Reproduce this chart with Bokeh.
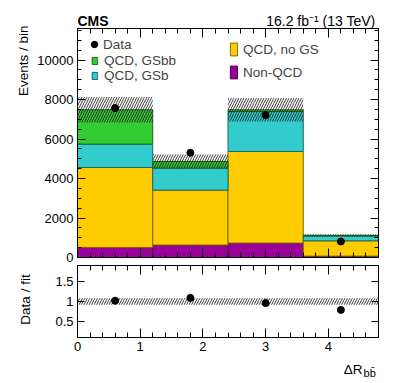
import math
from bokeh.plotting import figure
from bokeh.layouts import column, row
from bokeh.models import (ColumnDataSource, Legend, LegendItem, LinearAxis,
                          SingleIntervalTicker, FixedTicker)
from bokeh.core.properties import value
from bokeh.embed import file_html
from bokeh.resources import INLINE

# ---- data ----
bin_lo = [0.0, 1.2, 2.4, 3.6]
bin_hi = [1.2, 2.4, 3.6, 4.8]
bin_center = [0.6, 1.8, 3.0, 4.2]

non_qcd = [510, 630, 730, 70]
qcd_nogs = [4050, 2785, 4640, 775]
qcd_gsb = [1185, 1115, 2025, 250]
qcd_gsbb = [1740, 335, 85, 25]
fit_err = [650, 355, 595, 60]

data_counts = [7568, 5304, 7214, 810]
ratio_vals = [1.02, 1.09, 0.96, 0.79]
ratio_err = [0.08, 0.08, 0.08, 0.08]

labels = ["Non-QCD", "QCD, no GS", "QCD, GSb", "QCD, GSbb"]
colors = ["#990099", "#ffcc00", "#33cccc", "#33cc33"]
line_colors = ["#4d004d", "#806600", "#1a6666", "#1a661a"]

FONT = "Liberation Sans"
SIDE_W = 34
LEFT_B = 76 - SIDE_W
RIGHT_B = 22


def style_axis(ax, major_in, minor_in, show_labels):
    ax.axis_line_color = "black"
    ax.major_tick_line_color = "black"
    ax.minor_tick_line_color = "black"
    ax.major_tick_out = 0
    ax.minor_tick_out = 0
    ax.major_tick_in = major_in
    ax.minor_tick_in = minor_in
    ax.major_label_text_font = FONT
    ax.major_label_text_color = "black"
    if show_labels:
        ax.major_label_text_font_size = "13px"
    else:
        ax.major_label_text_font_size = "0px"
        ax.major_label_standoff = 0


def text_strip(w, h, x0, x1, bl, br):
    f = figure(width=w, height=h, x_range=(x0, x1), y_range=(0, h),
               output_backend="svg", toolbar_location=None,
               x_axis_type=None, y_axis_type=None,
               min_border_left=bl, min_border_right=br, min_border_top=0, min_border_bottom=0)
    f.grid.visible = False
    f.outline_line_color = None
    return f


# ---- side strip (y titles), spans the full height ----
side = text_strip(SIDE_W, 383, 0, SIDE_W, 0, 0)
side.text(x=[23.3], y=[358], text=["Events / bin"], angle=math.pi / 2,
          text_font=value(FONT), text_font_size="13.5px", text_align="right",
          text_baseline="alphabetic", text_color="black")
side.text(x=[24.5], y=[84], text=["Data / fit"], angle=math.pi / 2,
          text_font=value(FONT), text_font_size="13.5px", text_align="center",
          text_baseline="alphabetic", text_color="black")

# ---- header (experiment + luminosity); x in page pixels ----
head = text_strip(399 - SIDE_W, 28, 76, 377, LEFT_B, RIGHT_B)
head.text(x=[76], y=[7.3], text=["CMS"], text_font=value(FONT),
          text_font_style="bold", text_font_size="14px", text_baseline="alphabetic",
          text_color="black")
head.text(x=[375], y=[7.5], text=["16.2 fb\u207b\u00b9 (13 TeV)"],
          text_font=value(FONT), text_font_size="14px", text_align="right",
          text_baseline="alphabetic", text_color="black")

# ---- main panel ----
p1 = figure(frame_width=301, frame_height=229, x_range=(0, 4.8), y_range=(0, 11600),
            output_backend="svg", toolbar_location=None,
            min_border_left=LEFT_B, min_border_right=RIGHT_B, min_border_top=0,
            min_border_bottom=8)
p1.grid.visible = False
p1.outline_line_color = "black"

stack_src = ColumnDataSource(dict(x=bin_center, c0=non_qcd, c1=qcd_nogs, c2=qcd_gsb, c3=qcd_gsbb))
keys = ["c0", "c1", "c2", "c3"]
renderers = p1.vbar_stack(keys, x="x", width=1.2, source=stack_src, color=colors,
                          line_width=1)
for r, lc in zip(renderers, line_colors):
    r.glyph.line_color = lc

totals = [a + b + c + d for a, b, c, d in zip(non_qcd, qcd_nogs, qcd_gsb, qcd_gsbb)]
band_src = ColumnDataSource(dict(lo=bin_lo, hi=bin_hi,
                                 bot=[t - e for t, e in zip(totals, fit_err)],
                                 top=[t + e for t, e in zip(totals, fit_err)]))
p1.quad(left="lo", right="hi", bottom="bot", top="top", source=band_src,
        fill_alpha=0, line_alpha=0, hatch_pattern="/", hatch_color="#222222",
        hatch_scale=5, hatch_weight=0.9)

data_src = ColumnDataSource(dict(x=bin_center, y=data_counts))
data_r = p1.scatter("x", "y", source=data_src, size=7, color="black")

p1.add_layout(LinearAxis(), "right")
p1.add_layout(LinearAxis(), "above")
for ax in p1.below + p1.above:
    ax.ticker = SingleIntervalTicker(interval=1, num_minor_ticks=5)
    style_axis(ax, 9, 5, False)
for ax in p1.left + p1.right:
    ax.ticker = SingleIntervalTicker(interval=2000, num_minor_ticks=4)
    style_axis(ax, 8, 4, ax in p1.left)
p1.left[0].major_label_standoff = 4


def one_legend(label, rend, x, y, gw, gh, standoff):
    return Legend(items=[LegendItem(label=label, renderers=[rend])],
                  location=(x, y), glyph_width=gw, glyph_height=gh, label_height=16,
                  label_standoff=standoff, padding=0, margin=0, spacing=0,
                  border_line_alpha=0, background_fill_alpha=0,
                  label_text_font=FONT, label_text_font_size="13.5px")


for lg in (one_legend("Data", data_r, 9, 205, 16, 16, 1),
           one_legend("QCD, GSbb", renderers[3], 14, 189, 7, 9, 6),
           one_legend("QCD, GSb", renderers[2], 14, 174, 7, 9, 6),
           one_legend("QCD, no GS", renderers[1], 152, 200, 9, 16, 5),
           one_legend("Non-QCD", renderers[0], 152, 177, 9, 16, 5)):
    p1.add_layout(lg, "center")

# ---- ratio panel ----
p2 = figure(frame_width=301, frame_height=72, x_range=p1.x_range, y_range=(0.1, 1.9),
            output_backend="svg", toolbar_location=None,
            min_border_left=LEFT_B, min_border_right=RIGHT_B, min_border_top=0,
            min_border_bottom=19)
p2.grid.visible = False
p2.outline_line_color = "black"

rband_src = ColumnDataSource(dict(lo=bin_lo, hi=bin_hi,
                                  bot=[1 - e for e in ratio_err],
                                  top=[1 + e for e in ratio_err]))
p2.quad(left="lo", right="hi", bottom="bot", top="top", source=rband_src,
        fill_alpha=0, line_alpha=0, hatch_pattern="/", hatch_color="#222222",
        hatch_scale=5, hatch_weight=0.9)
p2.scatter(bin_center, ratio_vals, size=7, color="black")

p2.add_layout(LinearAxis(), "right")
p2.add_layout(LinearAxis(), "above")
for ax in p2.below + p2.above:
    ax.ticker = SingleIntervalTicker(interval=1, num_minor_ticks=5)
    style_axis(ax, 9, 5, ax in p2.below)
for ax in p2.left + p2.right:
    ax.ticker = FixedTicker(ticks=[0.5, 1, 1.5], minor_ticks=[])
    style_axis(ax, 7, 4, ax in p2.left)
p2.below[0].major_label_standoff = 4
p2.left[0].major_label_standoff = 4
p2.left[0].major_label_overrides = {0.5: "0.5", 1: "1", 1.5: "1.5"}

# ---- footer (x title); x in page pixels ----
foot = text_strip(399 - SIDE_W, 27, 76, 377, LEFT_B, RIGHT_B)
foot.text(x=[362], y=[383 - 368.5], text=["\u0394R"], text_font=value(FONT),
          text_font_size="13.5px", text_align="right", text_baseline="alphabetic",
          text_color="black")
foot.text(x=[363], y=[383 - 372.5], text=["bb\u0304"], text_font=value(FONT),
          text_font_size="11px", text_align="left", text_baseline="alphabetic",
          text_color="black")

layout = row(side, column(head, p1, p2, foot))
open("out.html", "w").write(file_html(layout, INLINE))
